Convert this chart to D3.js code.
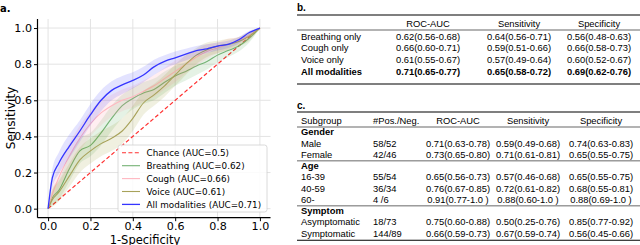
<!DOCTYPE html>
<html><head><meta charset="utf-8">
<script src="https://cdn.jsdelivr.net/npm/d3@7/dist/d3.min.js"></script>
<style>body{margin:0;background:#fff}svg{display:block}</style>
</head><body>
<svg id="chart" width="640" height="245"></svg>
<script>
// ---------- Panel a data (ROC curves) ----------
const fpr          = [0, 0.02, 0.05, 0.10, 0.15, 0.20, 0.25, 0.30, 0.35, 0.40, 0.45, 0.50, 0.55, 0.60, 0.65, 0.70, 0.75, 0.80, 0.85, 0.90, 0.95, 1.0];
const breathing    = [0, 0.06, 0.10, 0.22, 0.32, 0.35, 0.42, 0.50, 0.57, 0.61, 0.64, 0.66, 0.70, 0.735, 0.76, 0.79, 0.815, 0.85, 0.875, 0.90, 0.945, 1.0];
const breathingLo  = [0, 0.02, 0.05, 0.15, 0.25, 0.29, 0.35, 0.43, 0.50, 0.55, 0.58, 0.60, 0.64, 0.68, 0.71, 0.74, 0.77, 0.81, 0.84, 0.87, 0.92, 1.0];
const breathingHi  = [0, 0.11, 0.16, 0.29, 0.39, 0.42, 0.49, 0.57, 0.63, 0.67, 0.70, 0.72, 0.76, 0.79, 0.81, 0.84, 0.86, 0.89, 0.91, 0.93, 0.97, 1.0];
const cough        = [0, 0.08, 0.17, 0.29, 0.39, 0.47, 0.53, 0.57, 0.60, 0.62, 0.65, 0.68, 0.72, 0.76, 0.80, 0.84, 0.87, 0.89, 0.91, 0.93, 0.96, 1.0];
const coughLo      = [0, 0.04, 0.11, 0.22, 0.32, 0.40, 0.46, 0.51, 0.54, 0.56, 0.59, 0.62, 0.66, 0.70, 0.75, 0.79, 0.83, 0.86, 0.88, 0.91, 0.94, 1.0];
const coughHi      = [0, 0.13, 0.23, 0.36, 0.46, 0.54, 0.60, 0.63, 0.66, 0.68, 0.71, 0.74, 0.78, 0.82, 0.85, 0.88, 0.91, 0.92, 0.94, 0.95, 0.98, 1.0];
const voice        = [0, 0.05, 0.09, 0.18, 0.27, 0.32, 0.36, 0.39, 0.43, 0.50, 0.585, 0.63, 0.68, 0.74, 0.80, 0.85, 0.88, 0.90, 0.91, 0.925, 0.955, 1.0];
const voiceLo      = [0, 0.01, 0.04, 0.12, 0.20, 0.25, 0.29, 0.32, 0.36, 0.43, 0.52, 0.57, 0.62, 0.68, 0.74, 0.80, 0.84, 0.86, 0.88, 0.90, 0.93, 1.0];
const voiceHi      = [0, 0.10, 0.15, 0.25, 0.34, 0.39, 0.43, 0.46, 0.50, 0.57, 0.65, 0.69, 0.74, 0.80, 0.85, 0.89, 0.92, 0.93, 0.94, 0.95, 0.98, 1.0];
const allMod       = [0, 0.17, 0.25, 0.345, 0.43, 0.52, 0.60, 0.655, 0.685, 0.71, 0.74, 0.785, 0.815, 0.835, 0.855, 0.875, 0.885, 0.90, 0.91, 0.935, 0.975, 1.0];
const allModLo     = [0, 0.12, 0.19, 0.28, 0.37, 0.46, 0.54, 0.60, 0.635, 0.665, 0.70, 0.74, 0.775, 0.80, 0.82, 0.845, 0.86, 0.875, 0.89, 0.915, 0.96, 1.0];
const allModHi     = [0, 0.22, 0.31, 0.41, 0.49, 0.58, 0.655, 0.705, 0.735, 0.755, 0.785, 0.825, 0.85, 0.87, 0.885, 0.90, 0.91, 0.92, 0.93, 0.95, 0.985, 1.0];
const chanceX      = [0, 1];
const chanceY      = [0, 1];
const axisTicks    = [0, 0.2, 0.4, 0.6, 0.8, 1.0];
const legendLabels = ["Chance (AUC=0.5)", "Breathing (AUC=0.62)", "Cough (AUC=0.66)", "Voice (AUC=0.61)", "All modalities (AUC=0.71)"];

// ---------- Panel b data ----------
const bHeaders = ["ROC-AUC", "Sensitivity", "Specificity"];
const bRows    = ["Breathing only", "Cough only", "Voice only", "All modalities"];
const bRoc     = ["0.62(0.56-0.68)", "0.66(0.60-0.71)", "0.61(0.55-0.67)", "0.71(0.65-0.77)"];
const bSens    = ["0.64(0.56-0.71)", "0.59(0.51-0.66)", "0.57(0.49-0.64)", "0.65(0.58-0.72)"];
const bSpec    = ["0.56(0.48-0.63)", "0.66(0.58-0.73)", "0.60(0.52-0.67)", "0.69(0.62-0.76)"];

// ---------- Panel c data ----------
const cHeaders   = ["Subgroup", "#Pos./Neg.", "ROC-AUC", "Sensitivity", "Specificity"];
const cGroups    = ["Gender", "Age", "Symptom"];
const cSubgroups = ["Male", "Female", "16-39", "40-59", "60-", "Asymptomatic", "Symptomatic"];
const cGroupOf   = [0, 0, 1, 1, 1, 2, 2];
const cPosNeg    = ["58/52", "42/46", "55/54", "36/34", "4 /6", "18/73", "144/89"];
const cRoc       = ["0.71(0.63-0.78)", "0.73(0.65-0.80)", "0.65(0.56-0.73)", "0.76(0.67-0.85)", "0.91(0.77-1.0 )", "0.75(0.60-0.88)", "0.66(0.59-0.73)"];
const cSens      = ["0.59(0.49-0.68)", "0.71(0.61-0.81)", "0.57(0.46-0.68)", "0.72(0.61-0.82)", "0.88(0.60-1.0 )", "0.50(0.25-0.76)", "0.67(0.59-0.74)"];
const cSpec      = ["0.74(0.63-0.83)", "0.65(0.55-0.75)", "0.65(0.55-0.75)", "0.68(0.55-0.81)", "0.88(0.69-1.0 )", "0.85(0.77-0.92)", "0.56(0.45-0.66)"];

// ================= Drawing =================
const svg = d3.select("#chart");
const axFont = "DejaVu Sans, sans-serif";
const tabFont = "Liberation Sans, Arial, sans-serif";

// ----- Panel a -----
const x = d3.scaleLinear().domain([-0.05, 1.05]).range([37.5, 270.5]);
const y = d3.scaleLinear().domain([-0.05, 1.05]).range([217.7, 19]);

svg.append("text").attr("x", 0).attr("y", 12).attr("font-family", axFont)
  .attr("font-weight", "bold").attr("font-size", 10).text("a.");

const grid = svg.append("g");
grid.selectAll(".gx").data(axisTicks).join("line")
  .attr("x1", d => x(d)).attr("x2", d => x(d)).attr("y1", y.range()[0]).attr("y2", y.range()[1])
  .attr("stroke", "#e3e3e3").attr("stroke-width", 1);
grid.selectAll(".gy").data(axisTicks).join("line")
  .attr("y1", d => y(d)).attr("y2", d => y(d)).attr("x1", x.range()[0]).attr("x2", x.range()[1])
  .attr("stroke", "#e3e3e3").attr("stroke-width", 1);

const series = [
  {v: breathing, lo: breathingLo, hi: breathingHi, line: "#74b274", band: "rgba(0,128,0,0.10)", w: 1.1},
  {v: cough, lo: coughLo, hi: coughHi, line: "#ffb7c0", band: "rgba(255,150,165,0.16)", w: 1.1},
  {v: voice, lo: voiceLo, hi: voiceHi, line: "#a8a25a", band: "rgba(128,128,0,0.12)", w: 1.1},
  {v: allMod, lo: allModLo, hi: allModHi, line: "#3535ff", band: "rgba(40,40,255,0.13)", w: 1.3}
];

const area = d3.area().x((d, i) => x(fpr[i])).y0(d => y(d[0])).y1(d => y(d[1])).curve(d3.curveMonotoneX);
const line = d3.line().x((d, i) => x(fpr[i])).y(d => y(d)).curve(d3.curveMonotoneX);

// chance line
svg.append("line").attr("x1", x(chanceX[0])).attr("y1", y(chanceY[0])).attr("x2", x(chanceX[1])).attr("y2", y(chanceY[1]))
  .attr("stroke", "#ff3030").attr("stroke-width", 1.2).attr("stroke-dasharray", "4,2.4");

series.forEach(s => {
  svg.append("path").datum(s.lo.map((l, i) => [l, s.hi[i]])).attr("d", area).attr("fill", s.band);
  svg.append("path").datum(s.v).attr("d", line).attr("fill", "none").attr("stroke", s.line).attr("stroke-width", s.w);
});

// axes
const xAxis = d3.axisBottom(x).tickValues(axisTicks).tickFormat(d3.format(".1f")).tickSize(3.5).tickPadding(1);
const yAxis = d3.axisLeft(y).tickValues(axisTicks).tickFormat(d3.format(".1f")).tickSize(3.5).tickPadding(2);
const gx = svg.append("g").attr("transform", `translate(0,${y.range()[0]})`).call(xAxis);
const gy = svg.append("g").attr("transform", `translate(${x.range()[0]},0)`).call(yAxis);
[gx, gy].forEach(g => {
  g.select(".domain").attr("stroke", "#000").attr("stroke-width", 1.2);
  g.selectAll(".tick line").attr("stroke", "#000").attr("stroke-width", 1);
  g.selectAll(".tick text").attr("font-family", axFont).attr("font-size", 11.1).attr("fill", "#000");
});
gx.select(".domain").attr("d", `M${x.range()[0]},0H${x.range()[1]}`);
gy.select(".domain").attr("d", `M0,${y.range()[0]}V${y.range()[1]}`);

svg.append("text").attr("x", 145).attr("y", 243.5).attr("text-anchor", "middle")
  .attr("font-family", axFont).attr("font-size", 11.5).text("1-Specificity");
svg.append("text").attr("transform", `translate(15,118) rotate(-90)`).attr("text-anchor", "middle")
  .attr("font-family", axFont).attr("font-size", 12).text("Sensitivity");

// legend
const leg = svg.append("g");
leg.append("rect").attr("x", 118).attr("y", 145).attr("width", 149).attr("height", 67).attr("rx", 2.5)
  .attr("fill", "rgba(255,255,255,0.85)").attr("stroke", "#d0d0d0").attr("stroke-width", 0.8);
const legColors = ["#ff3030", "#74b274", "#ffb7c0", "#a8a25a", "#3535ff"];
const legDash = ["4,2.4", null, null, null, null];
legendLabels.forEach((t, i) => {
  const yy = 152.8 + i * 12.9;
  leg.append("line").attr("x1", 122).attr("x2", 140).attr("y1", yy).attr("y2", yy)
    .attr("stroke", legColors[i]).attr("stroke-width", i === 4 ? 1.3 : 1.1).attr("stroke-dasharray", legDash[i]);
  leg.append("text").attr("x", 146.5).attr("y", yy + 3.2).attr("font-family", axFont).attr("font-size", 8.8).text(t);
});

// ----- Panel b -----
const tFs = 9.4;
const tb = svg.append("g").attr("font-family", tabFont).attr("font-size", tFs).attr("fill", "#000");
tb.append("text").attr("x", 297).attr("y", 11).attr("font-weight", "bold").attr("font-size", 10).text("b.");
const bColX = [428, 519, 599];
tb.append("line").attr("x1", 297).attr("x2", 640).attr("y1", 15).attr("y2", 15).attr("stroke", "#000").attr("stroke-width", 1.1);
bHeaders.forEach((h, i) => tb.append("text").attr("x", bColX[i]).attr("y", 27).attr("text-anchor", "middle").text(h));
tb.append("line").attr("x1", 297).attr("x2", 640).attr("y1", 30).attr("y2", 30).attr("stroke", "#000").attr("stroke-width", 0.6);
bRows.forEach((r, i) => {
  const yy = 39.5 + i * 11.7;
  const bold = i === bRows.length - 1 ? "bold" : "normal";
  tb.append("text").attr("x", 301).attr("y", yy).attr("font-weight", bold).text(r);
  [bRoc, bSens, bSpec].forEach((col, j) =>
    tb.append("text").attr("x", bColX[j]).attr("y", yy).attr("text-anchor", "middle").attr("font-weight", bold).text(col[i]));
});
tb.append("line").attr("x1", 297).attr("x2", 640).attr("y1", 84).attr("y2", 84).attr("stroke", "#000").attr("stroke-width", 1.1);

// ----- Panel c -----
const tc = svg.append("g").attr("font-family", tabFont).attr("font-size", tFs).attr("fill", "#000");
tc.append("text").attr("x", 297).attr("y", 108.5).attr("font-weight", "bold").attr("font-size", 10).text("c.");
tc.append("line").attr("x1", 297).attr("x2", 640).attr("y1", 112).attr("y2", 112).attr("stroke", "#000").attr("stroke-width", 1.1);
const cColX = [301, 373, 458, 528, 601];
const cAnchor = ["start", "start", "middle", "middle", "middle"];
cHeaders.forEach((h, i) => tc.append("text").attr("x", cColX[i]).attr("y", 123.5).attr("text-anchor", cAnchor[i]).text(h));
tc.append("line").attr("x1", 297).attr("x2", 640).attr("y1", 127).attr("y2", 127).attr("stroke", "#000").attr("stroke-width", 0.6);
let yy = 135.3;
const rowH = 11.25;
cGroups.forEach((g, gi) => {
  if (gi > 0) {
    tc.append("line").attr("x1", 297).attr("x2", 640).attr("y1", yy - 8.2).attr("y2", yy - 8.2).attr("stroke", "#000").attr("stroke-width", 0.6);
  }
  tc.append("text").attr("x", 301).attr("y", yy).attr("font-weight", "bold").text(g);
  yy += rowH;
  cSubgroups.forEach((s, i) => {
    if (cGroupOf[i] !== gi) return;
    const vals = [s, cPosNeg[i], cRoc[i], cSens[i], cSpec[i]];
    vals.forEach((v, j) => tc.append("text").attr("x", cColX[j]).attr("y", yy).attr("text-anchor", cAnchor[j]).text(v));
    yy += rowH;
  });
});
tc.append("line").attr("x1", 297).attr("x2", 640).attr("y1", yy - 7.5).attr("y2", yy - 7.5).attr("stroke", "#000").attr("stroke-width", 1.1);
</script>
</body></html>
